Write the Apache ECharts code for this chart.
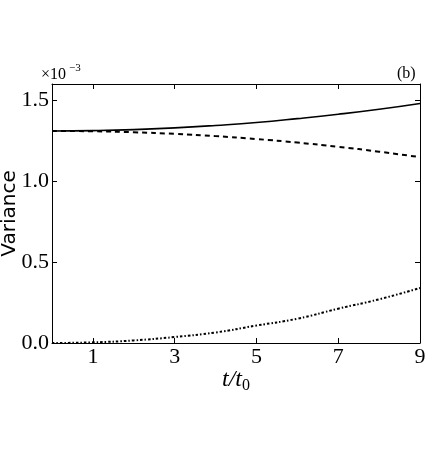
<!DOCTYPE html>
<html>
<head>
<meta charset="utf-8">
<script src="https://cdn.jsdelivr.net/npm/echarts@6/dist/echarts.min.js"></script>
<style>
  html, body { margin: 0; padding: 0; background: #fff; }
  #chart { width: 436px; height: 456px; }
</style>
</head>
<body>
<div id="chart"></div>
<script>
// time in units of t0, variance in units of 1e-3
const times = [0, 1, 2, 3, 4, 5, 6, 7, 8, 9]
const solidVals = [1.310, 1.312, 1.318, 1.329, 1.344, 1.362, 1.386, 1.413, 1.444, 1.480]
const dashedVals = [1.310, 1.308, 1.302, 1.292, 1.278, 1.260, 1.238, 1.212, 1.182, 1.148]
const dotVals = [0.000, 0.004, 0.016, 0.037, 0.065, 0.108, 0.150, 0.212, 0.270, 0.340]
const xTicks = [1, 3, 5, 7, 9]
const yTicks = [0, 0.5, 1.0, 1.5]

const pairs = vals => times.map((t, i) => [t, vals[i]])
const serif = 'Liberation Serif'

const chart = echarts.init(document.getElementById('chart'))
const tickStyle = { inside: true, length: 5, lineStyle: { color: '#000', width: 1 } }
const frameLine = { show: true, onZero: false, lineStyle: { color: '#000', width: 1 } }

const option = {
  animation: false,
  grid: { left: 52, right: 16, top: 84, bottom: 113, outerBoundsMode: 'none', containLabel: false },
  xAxis: [
    {
      type: 'value', min: 0, max: 9,
      name: '{i|t/t}{s|0}', nameLocation: 'middle', nameGap: 23, nameMoveOverlap: false,
      nameTextStyle: {
        rich: {
          i: { fontFamily: serif, fontStyle: 'italic', fontSize: 24, color: '#000' },
          s: { fontFamily: serif, fontSize: 16, color: '#000', padding: [12, 0, 0, 0] }
        }
      },
      axisLine: frameLine,
      axisTick: Object.assign({ customValues: xTicks }, tickStyle),
      axisLabel: { customValues: xTicks, fontFamily: serif, fontSize: 22, color: '#000', margin: 3 },
      splitLine: { show: false }
    },
    {
      type: 'value', min: 0, max: 9, position: 'top',
      axisLine: frameLine,
      axisTick: Object.assign({ customValues: xTicks }, tickStyle),
      axisLabel: { show: false },
      splitLine: { show: false }
    }
  ],
  yAxis: [
    {
      type: 'value', min: 0, max: 1.6,
      name: 'Variance', nameLocation: 'middle', nameGap: 32, nameMoveOverlap: false,
      nameTextStyle: { fontFamily: 'DejaVu Sans', fontSize: 20, color: '#000' },
      axisLine: frameLine,
      axisTick: Object.assign({ customValues: yTicks }, tickStyle),
      axisLabel: {
        customValues: yTicks, fontFamily: serif, fontSize: 22, color: '#000', margin: 3,
        formatter: v => v.toFixed(1)
      },
      splitLine: { show: false }
    },
    {
      type: 'value', min: 0, max: 1.6, position: 'right',
      axisLine: frameLine,
      axisTick: Object.assign({ customValues: yTicks }, tickStyle),
      axisLabel: { show: false },
      splitLine: { show: false }
    }
  ],
  graphic: [
    { type: 'text', left: 41, top: 67, style: { text: '×10', font: '16px "Liberation Serif"', fill: '#000' } },
    { type: 'text', left: 69, top: 63, style: { text: '−3', font: '11px "Liberation Serif"', fill: '#000' } },
    { type: 'text', left: 397, top: 66, style: { text: '(b)', font: '16px "Liberation Serif"', fill: '#000' } }
  ],
  series: [
    {
      type: 'line', data: pairs(solidVals), smooth: true, showSymbol: false,
      lineStyle: { color: '#000', width: 1.6, type: 'solid' }
    },
    {
      type: 'line', data: pairs(dashedVals), smooth: true, showSymbol: false,
      lineStyle: { color: '#000', width: 2, type: [5, 4] }
    },
    {
      type: 'line', data: pairs(dotVals), smooth: true, showSymbol: false,
      lineStyle: { color: '#000', width: 2, type: [2.5, 2, 1.5, 2] }
    }
  ]
}
chart.setOption(option)
</script>
</body>
</html>
